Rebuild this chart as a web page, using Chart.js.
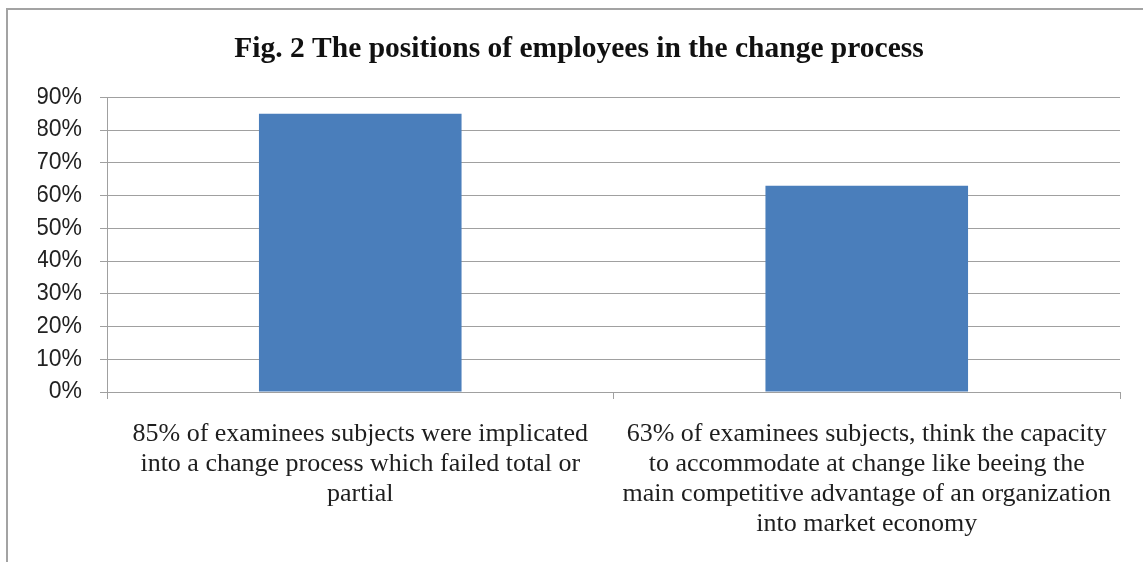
<!DOCTYPE html>
<html>
<head>
<meta charset="utf-8">
<script src="https://cdn.jsdelivr.net/npm/chart.js@4.4.1/dist/chart.umd.min.js"></script>
<style>
  html, body { margin: 0; padding: 0; background: #fff; }
  #wrap { position: relative; width: 1143px; height: 562px; }
  #frame {
    position: absolute; left: 6px; top: 8px; right: 0; bottom: 0;
    border-left: 2px solid #a3a3a3; border-top: 2px solid #a3a3a3;
    pointer-events: none;
  }
  canvas { position: absolute; left: 0; top: 0; }
</style>
</head>
<body>
<div id="wrap">
  <canvas id="chart" width="1143" height="562"></canvas>
  <div id="frame"></div>
</div>
<script>
// chart data
const titleText = "Fig. 2 The positions of employees in the change process";
const categories = [
  ["85% of examinees subjects were implicated", "into a change process which failed total or", "partial"],
  ["63% of examinees subjects, think the capacity", "to accommodate at change like beeing the", "main competitive advantage of an organization", "into market economy"]
];
const values = [85, 63];
const yTicks = [0, 10, 20, 30, 40, 50, 60, 70, 80, 90];

const gridColor = "#a0a0a0";

const ctx = document.getElementById("chart").getContext("2d");
new Chart(ctx, {
  type: "bar",
  data: {
    labels: categories,
    datasets: [{
      data: values,
      backgroundColor: "#4a7ebb",
      borderWidth: 0,
      barPercentage: 0.4,
      categoryPercentage: 1.0
    }]
  },
  options: {
    responsive: false,
    animation: false,
    layout: { padding: { left: 38, right: 23, top: 0, bottom: 0 } },
    plugins: {
      legend: { display: false },
      tooltip: { enabled: false },
      title: {
        display: true,
        text: titleText,
        color: "#111",
        font: { family: "'Liberation Serif', 'Times New Roman', serif", size: 29.5, weight: "bold", lineHeight: 1.2 },
        padding: { top: 32, bottom: 30 }
      }
    },
    scales: {
      x: {
        grid: { drawOnChartArea: false, drawTicks: true, tickLength: 7, color: gridColor, offset: true },
        border: { color: gridColor, width: 1 },
        ticks: {
          autoSkip: false,
          maxRotation: 0,
          padding: 20,
          color: "#1e1e1e",
          font: { family: "'Liberation Serif', 'Times New Roman', serif", size: 26, lineHeight: 1.154 }
        },
        afterFit: (scale) => { scale.height = 170; }
      },
      y: {
        min: 0,
        max: 90,
        afterBuildTicks: (scale) => { scale.ticks = yTicks.map(v => ({ value: v })); },
        grid: { color: gridColor, tickLength: 7, lineWidth: 1 },
        border: { color: gridColor, width: 1 },
        ticks: {
          padding: 18,
          color: "#222",
          font: { family: "'Liberation Sans', Arial, sans-serif", size: 23 },
          callback: (value) => value + "%"
        },
        afterFit: (scale) => { scale.width = 69; }
      }
    }
  }
});
</script>
</body>
</html>
